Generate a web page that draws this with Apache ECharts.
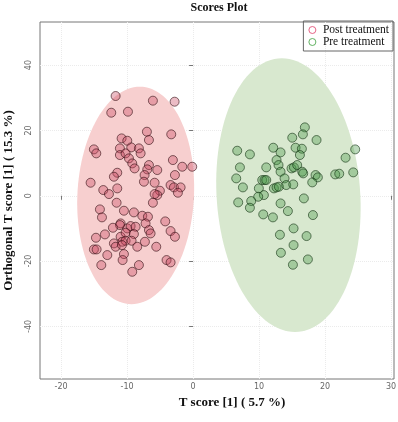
<!DOCTYPE html>
<html>
<head>
<meta charset="utf-8">
<script src="https://cdn.jsdelivr.net/npm/echarts@6/dist/echarts.min.js"></script>
<style>html,body{margin:0;padding:0;background:#fff}#c{width:398px;height:422px}</style>
</head>
<body>
<div id="c"></div>
<script>
// Post treatment scores [T score, orthogonal T score]
var postX = [-11.74,-6.09,-2.80,-12.40,-9.87,-7.00,-6.69,-3.31,-10.83,-9.97,-15.03,-14.67,-11.09,-9.37,-11.09,-10.23,-8.21,-7.95,-9.72,-9.22,-8.86,-6.69,-6.94,-5.43,-3.06,-1.64,-0.13,-11.49,-12.00,-7.35,-2.75,-15.53,-13.61,-12.75,-11.49,-7.45,-5.83,-3.41,-2.90,-1.89,-2.30,-5.03,-5.43,-5.83,-6.09,-11.59,-14.12,-13.81,-10.48,-8.97,-7.70,-6.84,-4.22,-10.98,-11.09,-12.15,-9.97,-9.47,-8.71,-7.20,-6.69,-6.44,-3.41,-2.75,-13.36,-14.72,-10.98,-10.23,-8.97,-10.73,-10.23,-9.32,-7.30,-12.00,-11.74,-10.78,-8.46,-5.58,-15.03,-14.62,-13.00,-10.48,-10.68,-13.91,-8.21,-9.22,-4.02,-3.41];
var postY = [30.54,29.11,28.80,25.43,25.74,19.61,17.06,18.80,17.57,16.85,14.20,12.98,14.51,14.81,12.47,12.98,14.51,12.98,11.45,9.91,8.38,9.40,8.08,7.87,10.93,8.89,8.89,7.05,5.83,6.34,6.34,3.99,1.75,0.52,2.26,4.30,3.99,3.28,2.56,2.56,0.93,1.54,0.21,0.52,-2.13,-2.13,-4.17,-6.62,-4.58,-5.09,-6.12,-6.42,-7.85,-8.46,-8.97,-9.79,-9.99,-9.28,-9.49,-8.46,-10.51,-11.53,-10.81,-12.55,-11.83,-12.85,-12.55,-11.32,-11.73,-14.08,-13.77,-13.77,-14.08,-14.59,-15.61,-15.10,-15.61,-15.61,-16.43,-16.43,-18.16,-17.86,-19.69,-21.23,-21.23,-23.27,-19.69,-20.40];
// Pre treatment scores
var preX = [16.94,16.64,15.03,18.71,15.53,16.49,12.15,13.26,16.19,6.69,8.61,12.65,12.95,11.09,7.10,13.26,14.92,15.28,15.78,16.54,16.69,13.86,18.56,18.91,18.06,21.54,22.15,23.11,24.57,24.27,6.54,7.55,10.48,10.83,11.09,9.97,12.25,12.65,13.01,14.12,15.18,10.73,9.87,8.81,6.84,8.61,10.63,12.10,13.26,14.37,16.79,18.16,15.23,13.16,17.20,15.23,13.31,17.40,15.13];
var preY = [20.94,18.80,17.78,17.06,14.71,14.40,14.71,13.28,12.47,13.79,12.67,10.93,9.40,8.69,8.69,7.36,8.38,8.69,9.40,7.36,6.85,5.32,6.34,5.63,4.09,6.54,6.75,11.65,14.20,7.16,5.32,2.56,4.81,4.81,4.81,2.26,2.26,2.56,2.77,3.28,3.48,0.21,-0.30,-1.62,-2.03,-3.67,-5.71,-6.62,-2.34,-4.69,-0.81,-5.91,-9.99,-11.94,-12.34,-15.10,-17.45,-19.49,-21.12];
// Confidence ellipses: centre, semi-axis vectors (data units)
var postEllipseCenter = [-8.7, 0.1];
var postEllipseMajor = [0.63, 33.3];
var postEllipseMinor = [8.84, 0];
var preEllipseCenter = [14.45, 0.2];
var preEllipseMajor = [-1.0, 41.9];
var preEllipseMinor = [10.9, 0];
// Axis ticks
var xTicks = [-20, -10, 0, 10, 20, 30];
var yTicks = [-40, -20, 0, 20, 40];

function zip(a, b) { return a.map(function (v, i) { return [v, b[i]]; }); }

function ellipseSeries(name, c, M, N, fill) {
  return {
    type: 'custom', name: name, silent: true, z: 1,
    data: [[c[0], c[1]]],
    renderItem: function (params, api) {
      var pts = [];
      for (var k = 0; k < 120; k++) {
        var t = k / 120 * Math.PI * 2;
        pts.push(api.coord([c[0] + Math.cos(t) * N[0] + Math.sin(t) * M[0],
                            c[1] + Math.cos(t) * N[1] + Math.sin(t) * M[1]]));
      }
      return { type: 'polygon', shape: { points: pts }, style: { fill: fill, stroke: null } };
    }
  };
}

var chart = echarts.init(document.getElementById('c'));
var tickLabel = { color: '#666', fontSize: 8, fontFamily: 'DejaVu Sans' };
chart.setOption({
  animation: false,
  title: {
    text: 'Scores Plot', left: 219, top: 2, textAlign: 'center', padding: 0,
    textStyle: { fontFamily: 'Liberation Serif', fontWeight: 'bold', fontSize: 12, color: '#111' }
  },
  legend: {
    orient: 'vertical', right: 5, top: 21,
    borderColor: '#666', borderWidth: 1, padding: [3, 4, 3, 5], itemGap: 0,
    itemWidth: 7, itemHeight: 7,
    textStyle: { fontFamily: 'Liberation Serif', fontSize: 11.5, color: '#111', padding: [0, 0, 0, 2] },
    data: [
      { name: 'Post treatment', icon: 'circle', itemStyle: { color: '#fff', borderColor: '#e0406a', borderWidth: 1 } },
      { name: 'Pre treatment', icon: 'circle', itemStyle: { color: '#fff', borderColor: '#3fa03f', borderWidth: 1 } }
    ]
  },
  grid: { left: 40, top: 22, width: 354, height: 357, show: true, borderColor: '#777', borderWidth: 1,
          containLabel: false, outerBoundsMode: 'none' },
  xAxis: {
    type: 'value', min: -23.2, max: 30.45,
    name: 'T score [1] ( 5.7 %)', nameLocation: 'middle', nameGap: 17,
    nameTextStyle: { fontFamily: 'Liberation Serif', fontWeight: 'bold', fontSize: 13, color: '#111', padding: [0, 0, 0, 30] },
    axisLine: { show: false },
    axisTick: { show: true, inside: false, length: 4, customValues: xTicks, lineStyle: { color: '#777' } },
    axisLabel: Object.assign({ customValues: xTicks, margin: 4 }, tickLabel),
    splitLine: { show: true, lineStyle: { color: '#ebebeb', type: 'dotted' } }
  },
  yAxis: {
    type: 'value', min: -56.1, max: 53.2,
    name: 'Orthogonal T score [1] ( 15.3 %)', nameLocation: 'middle', nameGap: 25,
    nameTextStyle: { fontFamily: 'Liberation Serif', fontWeight: 'bold', fontSize: 13, color: '#111' },
    axisLine: { show: false },
    axisTick: { show: true, inside: false, length: 4, customValues: yTicks, lineStyle: { color: '#777' } },
    axisLabel: Object.assign({ customValues: yTicks, margin: 7, rotate: 90 }, tickLabel),
    splitLine: { show: true, lineStyle: { color: '#ebebeb', type: 'dotted' } }
  },
  series: [
    ellipseSeries('postEllipse', postEllipseCenter, postEllipseMajor, postEllipseMinor, '#f7cfcf'),
    ellipseSeries('preEllipse', preEllipseCenter, preEllipseMajor, preEllipseMinor, '#d8e8cf'),
    {
      type: 'scatter', name: 'Post treatment', z: 3, symbolSize: 9,
      data: zip(postX, postY),
      itemStyle: { color: 'rgba(200,70,95,0.45)', borderColor: 'rgba(50,15,20,0.85)', borderWidth: 0.9 }
    },
    {
      type: 'scatter', name: 'Pre treatment', z: 3, symbolSize: 9,
      data: zip(preX, preY),
      itemStyle: { color: 'rgba(70,150,70,0.45)', borderColor: 'rgba(20,50,20,0.85)', borderWidth: 0.9 }
    }
  ]
});
</script>
</body>
</html>
